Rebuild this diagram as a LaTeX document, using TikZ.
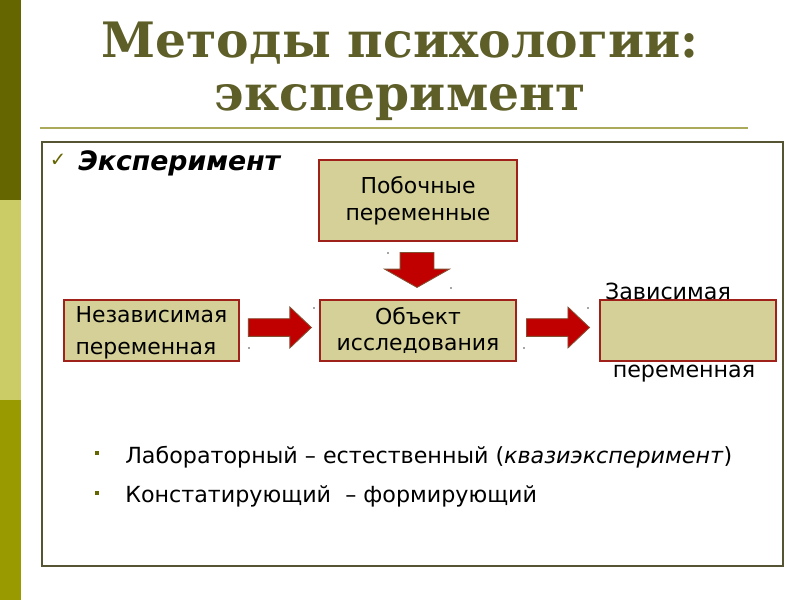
\documentclass[tikz,border=0pt]{standalone}
\usepackage{fontspec}
\setmainfont{DejaVu Sans}
\newfontfamily\titlefont{DejaVu Serif}
\usetikzlibrary{shapes.arrows,positioning,calc}
\definecolor{olivedark}{RGB}{102,102,0}
\definecolor{olivelight}{RGB}{204,204,102}
\definecolor{olivemid}{RGB}{153,153,0}
\definecolor{titleolive}{RGB}{94,94,40}
\definecolor{framegray}{RGB}{85,85,51}
\definecolor{ruleolive}{RGB}{170,170,90}
\definecolor{khaki}{RGB}{212,208,152}
\definecolor{boxred}{RGB}{160,32,26}
\definecolor{arrowred}{RGB}{192,0,0}
\definecolor{arrowbrown}{RGB}{130,80,50}

\begin{document}
\begin{tikzpicture}[x=0.025cm, y=-0.025cm,
    box/.style={rectangle, draw=boxred, fill=khaki, line width=1.4pt, inner sep=0pt,
        minimum height=1.525cm, align=center, font=\fontsize{15.6}{19}\selectfont},
    blockarrow/.style={single arrow, fill=arrowred, draw=arrowbrown, line width=0.6pt,
        inner xsep=0pt, inner ysep=0.21cm, single arrow head extend=0.29cm,
        minimum width=1cm, minimum height=1.575cm, single arrow tip angle=87},
    downarrow/.style={blockarrow, inner xsep=0.4125cm, inner ysep=0pt,
        single arrow head extend=0.3875cm, minimum width=1.6cm, minimum height=0.875cm,
        single arrow tip angle=121, shape border rotate=270},
    plain/.style={font=\fontsize{15.8}{19}\selectfont, inner sep=0pt},
    titletext/.style={font=\titlefont\bfseries\fontsize{34.7}{40}\selectfont, text=titleolive}
]
    % page and side strip
    \fill[white] (0,0) rectangle (800,600);
    \fill[olivedark] (0,0) rectangle (21,200);
    \fill[olivelight] (0,200) rectangle (21,400);
    \fill[olivemid] (0,400) rectangle (21,600);

    % title
    \node[titletext] (title1) at (400,43) {Методы психологии:};
    \node[titletext] (title2) at (400,103) {эксперимент};
    \draw[ruleolive, line width=1.2pt] (40,128) -- (748,128);
    \draw[framegray, line width=1.5pt] (42,142) rectangle (783,566);

    \node[text=olivedark, font=\fontsize{14}{14}\selectfont, inner sep=0pt] (check) at (58,160) {✓};
    \node[anchor=west, inner sep=0pt, font=\bfseries\itshape\fontsize{19}{22}\selectfont] (head) at (78,163) {Эксперимент};

    % scheme
    \node[box, minimum width=4.9cm] (object) at (418,330.5) {Объект\\исследования};
    \node[box, minimum width=4.95cm, minimum height=2.025cm, above=1.425cm of object] (side) {Побочные\\переменные};
    \node[box, minimum width=4.375cm, align=left, left=1.975cm of object] (indep) {\rule{0pt}{15pt}Независимая\\[4pt]переменная};
    \node[box, minimum width=4.4cm, right=2.05cm of object] (dep) {};

    \node[blockarrow, anchor=tail] (arrA) at ($(indep.east)+(8,-3)$) {};
    \node[blockarrow, anchor=tail] (arrB) at ($(object.east)+(9,-3)$) {};
    \node[downarrow, anchor=tail] (arrC) at ($(side.south)+(-1,10)$) {};

    \node[plain] (deplabel1) at (668,291) {Зависимая};
    \node[plain] (deplabel2) at (684,374) {переменная};

    % little handle dots
    \foreach \p in {(388,253),(451,288),(314,308),(249,348),(524,348),(588,308)}
        \fill[black!70] \p circle (0.8);

    % list
    \fill[olivedark] (95,451) rectangle (99,455);
    \fill[olivedark] (95,491) rectangle (99,495);
    \node[plain, anchor=west] (item1) at (125,457) {Лабораторный – естественный (\textit{квазиэксперимент})};
    \node[plain, anchor=west] (item2) at (125,496) {Констатирующий\ \ – формирующий};
\end{tikzpicture}
\end{document}
